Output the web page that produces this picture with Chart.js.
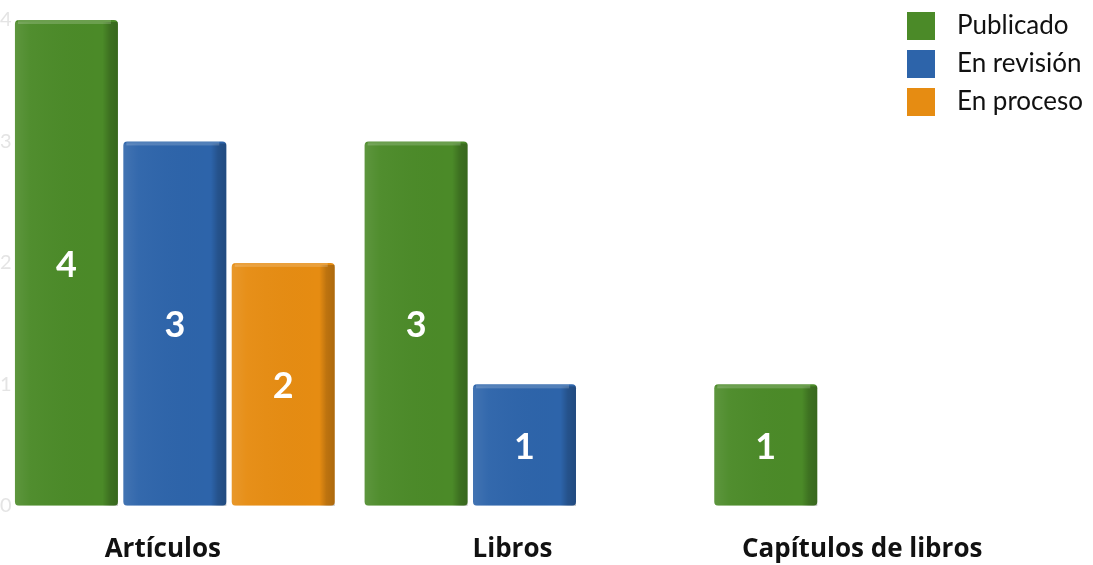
<!DOCTYPE html>
<html>
<head>
<meta charset="utf-8">
<title>Producción</title>
<script src="https://cdn.jsdelivr.net/npm/chart.js@4"></script>
<style>
    html, body { margin: 0; padding: 0; background: #ffffff; }
    #wrap { width: 1093px; height: 565px; position: relative; }
</style>
</head>
<body>
<div id="wrap"><canvas id="prodChart"></canvas></div>
<script>
const categories = ['Artículos', 'Libros', 'Capítulos de libros'];
const publicado = [4, 3, 1];
const enRevision = [3, 1, null];
const enProceso = [2, null, null];
const seriesLabels = ['Publicado', 'En revisión', 'En proceso'];
const seriesColors = ['#4b8a28', '#2d64aa', '#e68c12'];
const yMax = 4;

const fontFamily = "Lato, 'Open Sans', 'DejaVu Sans', sans-serif";
const axisFont = "'Open Sans', Lato, 'DejaVu Sans', sans-serif";

// sombreado de los bloques: borde derecho oscuro y brillo arriba
const barShading = {
    id: 'barShading',
    afterDatasetsDraw(chart) {
        const ctx = chart.ctx;
        chart.data.datasets.forEach((ds, i) => {
            const meta = chart.getDatasetMeta(i);
            meta.data.forEach((bar, j) => {
                if (ds.data[j] === null) return;
                const left = bar.x - bar.width / 2;
                const right = bar.x + bar.width / 2;
                const top = bar.y;
                const h = bar.base - bar.y;
                ctx.save();
                let g = ctx.createLinearGradient(left, 0, right, 0);
                g.addColorStop(0, 'rgba(255,255,255,0.10)');
                g.addColorStop(0.15, 'rgba(255,255,255,0.03)');
                g.addColorStop(0.85, 'rgba(0,0,0,0.0)');
                g.addColorStop(0.92, 'rgba(0,0,0,0.18)');
                g.addColorStop(1, 'rgba(0,0,0,0.25)');
                ctx.fillStyle = g;
                ctx.fillRect(left, top + 2, bar.width, h - 2);
                ctx.fillStyle = 'rgba(255,255,255,0.18)';
                ctx.fillRect(left + 3, top, bar.width - 10, 4);
                ctx.restore();
            });
        });
    }
};

// cifra blanca centrada en cada barra
const valueLabels = {
    id: 'valueLabels',
    afterDatasetsDraw(chart) {
        const ctx = chart.ctx;
        ctx.save();
        ctx.fillStyle = '#ffffff';
        ctx.font = 'bold 36px ' + fontFamily;
        ctx.textAlign = 'center';
        ctx.textBaseline = 'middle';
        chart.data.datasets.forEach((ds, i) => {
            const meta = chart.getDatasetMeta(i);
            meta.data.forEach((bar, j) => {
                const v = ds.data[j];
                if (v === null) return;
                ctx.fillText(String(v), bar.x, (bar.y + bar.base) / 2 + 2);
            });
        });
        ctx.restore();
    }
};

// leyenda arriba a la derecha
const cornerLegend = {
    id: 'cornerLegend',
    afterDraw(chart) {
        const ctx = chart.ctx;
        const x0 = chart.width - 186;
        ctx.save();
        ctx.font = '26px ' + fontFamily;
        ctx.textBaseline = 'middle';
        ctx.textAlign = 'left';
        chart.data.datasets.forEach((ds, i) => {
            const y = 26 + i * 38;
            ctx.fillStyle = ds.backgroundColor;
            ctx.fillRect(x0, y - 14, 28, 28);
            ctx.fillStyle = '#111111';
            ctx.fillText(ds.label, x0 + 50, y);
        });
        ctx.restore();
    }
};

const ctx = document.getElementById('prodChart').getContext('2d');
new Chart(ctx, {
    type: 'bar',
    data: {
        labels: categories,
        datasets: [
            { label: seriesLabels[0], data: publicado, backgroundColor: seriesColors[0] },
            { label: seriesLabels[1], data: enRevision, backgroundColor: seriesColors[1] },
            { label: seriesLabels[2], data: enProceso, backgroundColor: seriesColors[2] }
        ]
    },
    options: {
        responsive: true,
        maintainAspectRatio: false,
        animation: false,
        layout: { padding: { top: 20, left: -6, right: 44, bottom: -28 } },
        datasets: {
            bar: {
                categoryPercentage: 0.93,
                barPercentage: 0.95,
                borderRadius: 4,
                borderSkipped: false
            }
        },
        plugins: {
            legend: { display: false },
            tooltip: { enabled: false }
        },
        scales: {
            x: {
                grid: { display: false, drawTicks: false },
                border: { display: false },
                ticks: {
                    color: '#111111',
                    padding: 28,
                    labelOffset: -12,
                    font: { family: axisFont, size: 26, weight: 'bold' }
                }
            },
            y: {
                min: 0,
                max: yMax,
                grid: { display: false, drawTicks: false },
                border: { display: false },
                ticks: {
                    stepSize: 1,
                    mirror: true,
                    padding: 0,
                    color: '#e4e4e4',
                    font: { family: fontFamily, size: 20 }
                }
            }
        }
    },
    plugins: [barShading, valueLabels, cornerLegend]
});
</script>
</body>
</html>
